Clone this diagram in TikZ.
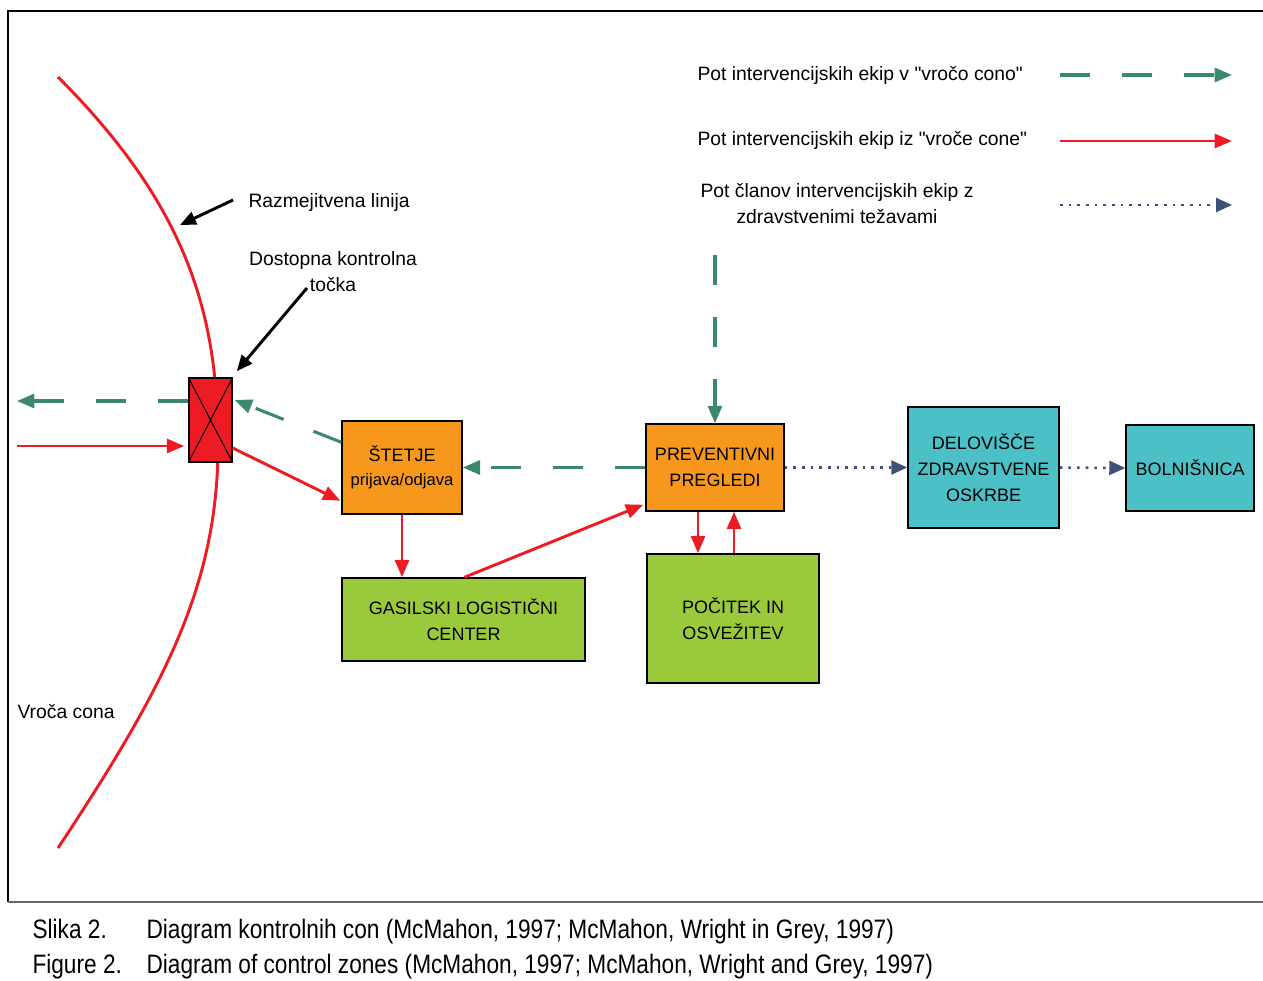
\documentclass[tikz,border=0pt]{standalone}
\usepackage{fontspec}
\setmainfont{Liberation Sans}[Ligatures=TeXOff]
\newfontfamily\capfont[FakeStretch=0.85]{Liberation Sans}
\usetikzlibrary{arrows.meta,calc}
\definecolor{hotred}{RGB}{237,28,36}
\definecolor{teamgreen}{RGB}{60,135,114}
\definecolor{sicknavy}{RGB}{62,79,120}
\definecolor{boxorange}{RGB}{247,152,29}
\definecolor{boxlime}{RGB}{154,202,60}
\definecolor{boxteal}{RGB}{75,192,198}
\tikzset{every picture/.style={line width=0.75pt}}

\begin{document}
\begin{tikzpicture}[x=0.75pt,y=0.75pt,yscale=-1,xscale=1,
    zonebox/.style={draw=black,line width=1.1pt,align=center,inner sep=1pt,font=\fontsize{13.5}{19.5}\selectfont},
    lbl/.style={inner sep=0.75pt,font=\fontsize{14.5}{19.5}\selectfont},
    caplbl/.style={anchor=base west,inner sep=0.75pt,font=\capfont\fontsize{20}{24}\selectfont},
    pathin/.style={draw=teamgreen,line width=2.3pt,dash pattern=on 22.5pt off 24pt,-{Triangle[length=13pt,width=10.5pt]}},
    pathout/.style={draw=hotred,line width=2.2pt,-{Triangle[length=13pt,width=10.5pt]}},
    pathsick/.style={draw=sicknavy,line width=1.9pt,dash pattern=on 1.9pt off 4.6pt,-{Triangle[length=12pt,width=10.5pt]}},
    pointer/.style={draw=black,line width=2.2pt,-{Triangle[length=12pt,width=10pt]}}]
    \useasboundingbox (0,0) rectangle (1263,981);
    %Frame
    \draw[line width=0.9pt] (1263,11) -- (8,11) -- (8,902) ;
    \draw[line width=0.9pt,black!60] (8,902) -- (1263,902) ;
    %Curve Lines: boundary of the hot zone
    \draw[hotred,line width=2.2pt] (58,77) .. controls (188,207) and (218,315) .. (218,445) .. controls (218,585) and (164,688) .. (58,848) ;
    %Shape: Rectangle [control point]
    \node[draw=black,fill=hotred,line width=1.1pt,minimum width=32.25pt,minimum height=63pt,inner sep=0pt] (ctrl) at (210.5,420) {};
    \draw (ctrl.north west) -- (ctrl.south east) (ctrl.north east) -- (ctrl.south west) ;
    %Shape: Rectangle [boxes]
    \node[zonebox,fill=boxorange,minimum width=90pt,minimum height=69.75pt] (stetje) at (402,467.5) {ŠTETJE\\[-1pt]{\fontsize{12.5}{15}\selectfont prijava/odjava}};
    \node[zonebox,fill=boxlime,minimum width=182.25pt,minimum height=62.25pt] (gas) at (463.5,619.5) {GASILSKI LOGISTIČNI\\CENTER};
    \node[zonebox,fill=boxorange,minimum width=103.5pt,minimum height=65.25pt] (prev) at (715,467.5) {PREVENTIVNI\\PREGLEDI};
    \node[zonebox,fill=boxlime,minimum width=129pt,minimum height=96.75pt] (poc) at (733,618.5) {POČITEK IN\\OSVEŽITEV};
    \node[zonebox,fill=boxteal,minimum width=113.25pt,minimum height=90.75pt] (del) at (983.5,467.5) {DELOVIŠČE\\ZDRAVSTVENE\\OSKRBE};
    \node[zonebox,fill=boxteal,minimum width=96pt,minimum height=64.5pt] (bol) at (1190,468) {BOLNIŠNICA};
    % Text Node
    \node[lbl,anchor=west] (razlbl) at (247,202) {Razmejitvena linija};
    % Text Node
    \node[lbl,align=center] (tocklbl) at (333,272) {Dostopna kontrolna\\točka};
    % Text Node
    \node[lbl,anchor=west] (vroca) at (16,712) {Vroča cona};
    % Text Node: legend
    \node[lbl,anchor=west] (leg1) at (696,75) {Pot intervencijskih ekip v "vročo cono"};
    \node[lbl,anchor=west] (leg2) at (696,140) {Pot intervencijskih ekip iz "vroče cone"};
    \node[lbl,align=center] (leg3) at (837,204) {Pot članov intervencijskih ekip z\\zdravstvenimi težavami};
    \coordinate (k1) at (1060,75) ; \coordinate (k1e) at (1232,75) ;
    \coordinate (k2) at (1060,141) ; \coordinate (k2e) at (1232,141) ;
    \coordinate (k3) at (1060,205) ; \coordinate (k3e) at (1232,205) ;
    \draw[pathin] (k1) -- (k1e) ;
    \draw[pathout] (k2) -- (k2e) ;
    \draw[pathsick] (k3) -- (k3e) ;
    %Connectors
    \coordinate (outg) at (17,401) ;
    \coordinate (inr) at (17,446) ;
    \coordinate (topg) at (715,255) ;
    \coordinate (razpt) at (180,225) ;
    \draw[pathin] (ctrl.west |- outg) -- (outg) ;
    \draw[pathout] (inr) -- ($(inr -| ctrl.west)+(-4,0)$) ;
    \draw[pathin] ($(stetje.north west)+(0,22)$) -- ($(ctrl.east)+(2,-20)$) ;
    \draw[pathout] ($(ctrl.east)+(0,28)$) -- ($(stetje.south west)+(-1,-14)$) ;
    \draw[pathin] (prev.west) -- (stetje.east) ;
    \draw[pathout] (stetje.south) -- (gas.north -| stetje.south) ;
    \draw[pathout] ($(gas.north)+(1,0)$) -- ($(prev.south west)+(-2,-7)$) ;
    \draw[pathin] (topg) -- (prev.north) ;
    \draw[pathout] ($(prev.south)+(-17,0)$) -- ($(poc.north)+(-35,0)$) ;
    \draw[pathout] ($(poc.north)+(1,0)$) -- ($(prev.south)+(19,0)$) ;
    \draw[pathsick] (prev.east) -- (del.west) ;
    \draw[pathsick] (del.east) -- (bol.west) ;
    \draw[pointer] ($(razlbl.west)+(-14,-2)$) -- (razpt) ;
    \draw[pointer] ($(tocklbl.center)+(-26,16)$) -- ($(ctrl.north east)+(4,-6)$) ;
    % Text Node: caption
    \node[caplbl] (slika) at (31,938) {Slika 2.};
    \node[caplbl] (slikatxt) at (145,938) {Diagram kontrolnih con (McMahon, 1997; McMahon, Wright in Grey, 1997)};
    \node[caplbl] (fig) at (31,973) {Figure 2.};
    \node[caplbl] (figtxt) at (145,973) {Diagram of control zones (McMahon, 1997; McMahon, Wright and Grey, 1997)};
\end{tikzpicture}
\end{document}
